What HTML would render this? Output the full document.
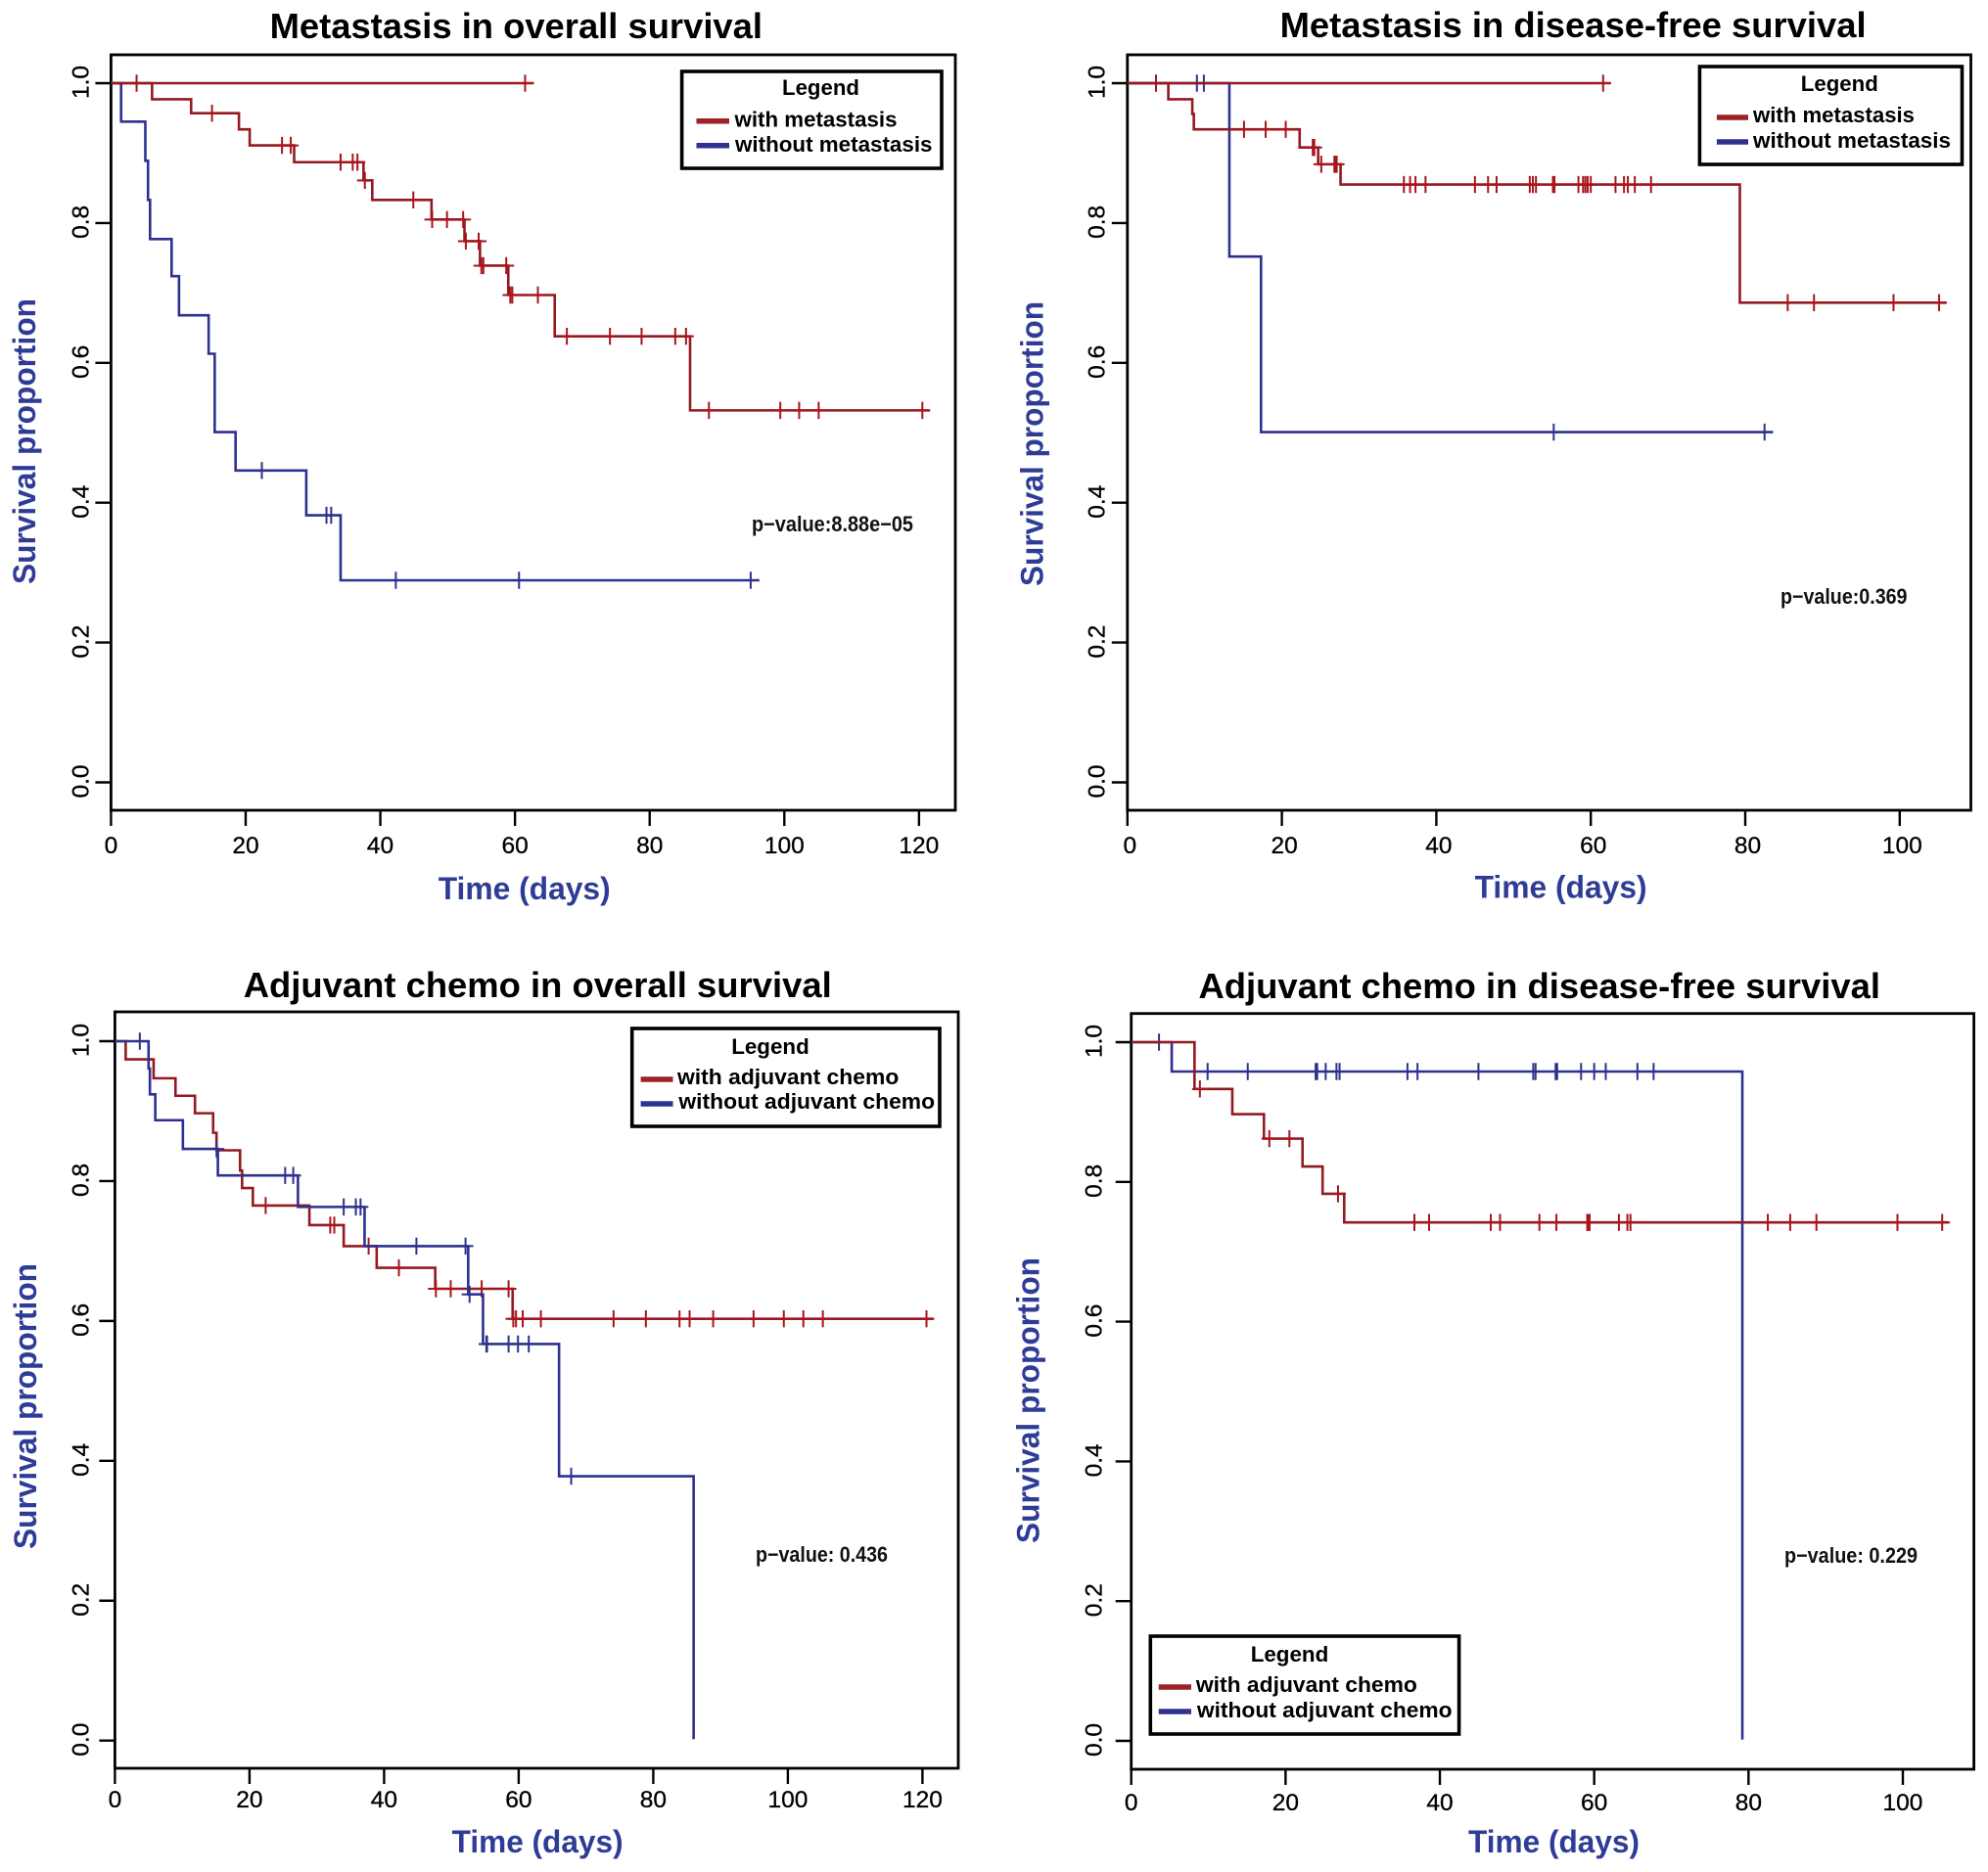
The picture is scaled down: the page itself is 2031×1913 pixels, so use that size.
<!DOCTYPE html>
<html lang="en">
<head>
<meta charset="utf-8">
<title>Kaplan-Meier survival curves</title>
<style>
html,body{margin:0;padding:0;background:#fff;}
#figure{display:block;}
text{font-family:"Liberation Sans",sans-serif;}
.title{font-size:36.5px;font-weight:bold;fill:#000;}
.axis-title{font-size:32px;font-weight:bold;fill:#2f3c96;}
.y-title{font-size:32px;font-weight:bold;fill:#2f3c96;}
.legend-title{font-size:22.5px;font-weight:bold;fill:#000;}
.legend-text{font-size:22.5px;font-weight:bold;fill:#000;}
.pvalue{font-size:22px;font-weight:bold;fill:#111;}
.tick-label{font-size:24.5px;fill:#000;stroke:#000;stroke-width:.3;}
.legend-box{fill:#fff;stroke:#000;stroke-width:3.6;}
</style>
</head>
<body>
<svg id="figure" xmlns="http://www.w3.org/2000/svg" width="2031" height="1913" viewBox="0 0 2031 1913">
  <rect x="0" y="0" width="2031" height="1913" fill="#fff"/>

  <g id="panel-1">
    <text class="title" x="275.6" y="39" textLength="503.4" lengthAdjust="spacingAndGlyphs">Metastasis in overall survival</text>
    <text class="axis-title" x="447.7" y="919" textLength="176" lengthAdjust="spacingAndGlyphs">Time (days)</text>
    <text class="y-title" transform="translate(36 597) rotate(-90)" textLength="292" lengthAdjust="spacingAndGlyphs">Survival proportion</text>
    <text class="pvalue" x="768" y="543" textLength="165" lengthAdjust="spacingAndGlyphs">p−value:8.88e−05</text>
  </g>
  <g id="panel-2">
    <text class="title" x="1307.6" y="38" textLength="599" lengthAdjust="spacingAndGlyphs">Metastasis in disease-free survival</text>
    <text class="axis-title" x="1506.6" y="917.5" textLength="176" lengthAdjust="spacingAndGlyphs">Time (days)</text>
    <text class="y-title" transform="translate(1065.5 599) rotate(-90)" textLength="291" lengthAdjust="spacingAndGlyphs">Survival proportion</text>
    <text class="pvalue" x="1819" y="617" textLength="129.5" lengthAdjust="spacingAndGlyphs">p−value:0.369</text>
  </g>
  <g id="panel-3">
    <text class="title" x="248.7" y="1019" textLength="601" lengthAdjust="spacingAndGlyphs">Adjuvant chemo in overall survival</text>
    <text class="axis-title" x="461.6" y="1893" textLength="175" lengthAdjust="spacingAndGlyphs">Time (days)</text>
    <text class="y-title" transform="translate(37 1583) rotate(-90)" textLength="292" lengthAdjust="spacingAndGlyphs">Survival proportion</text>
    <text class="pvalue" x="772" y="1596" textLength="135" lengthAdjust="spacingAndGlyphs">p−value: 0.436</text>
  </g>
  <g id="panel-4">
    <text class="title" x="1224.5" y="1020" textLength="696.5" lengthAdjust="spacingAndGlyphs">Adjuvant chemo in disease-free survival</text>
    <text class="axis-title" x="1500" y="1893" textLength="175" lengthAdjust="spacingAndGlyphs">Time (days)</text>
    <text class="y-title" transform="translate(1061.5 1577) rotate(-90)" textLength="292" lengthAdjust="spacingAndGlyphs">Survival proportion</text>
    <text class="pvalue" x="1823" y="1597" textLength="136" lengthAdjust="spacingAndGlyphs">p−value: 0.229</text>
  </g>

  <g id="legends-layer"></g>
</svg>

<script>
// Shared axis ticks
const xTicksOverall = [0, 20, 40, 60, 80, 100, 120];
const xTicksDiseaseFree = [0, 20, 40, 60, 80, 100];
const yTicks = [0, 0.2, 0.4, 0.6, 0.8, 1.0];
const yTickLabels = ['0.0', '0.2', '0.4', '0.6', '0.8', '1.0'];

// Panel 1: metastasis in overall survival
const p1FlatEnd = 62.8;
const p1FlatCensors = [3.8, 61.5];
const p1WithTimes = [6.1, 11.9, 19, 20.6, 27.2, 37.5, 38.8, 47.6, 52.5, 54.8, 59, 65.9, 86];
const p1WithLevels = [1, 0.977, 0.957, 0.934, 0.911, 0.887, 0.861, 0.833, 0.805, 0.774, 0.739, 0.697, 0.638, 0.532];
const p1WithCensors = [15, 25.4, 26.7, 34.1, 35.9, 36.6, 37.7, 44.9, 47.7, 49.9, 52.3, 52.7, 54.6, 55, 55.3, 58.7, 59.3, 59.6, 63.4, 67.7, 74.1, 78.8, 83.8, 85.4, 88.8, 99.4, 102.2, 105.1, 120.5];
const p1WithEnd = 121.6;
const p1WithoutTimes = [1.5, 5.1, 5.5, 5.8, 9, 10.1, 14.5, 15.4, 18.5, 29, 34.1];
const p1WithoutLevels = [1, 0.945, 0.889, 0.833, 0.777, 0.724, 0.668, 0.613, 0.501, 0.446, 0.382, 0.289];
const p1WithoutCensors = [22.4, 32, 32.7, 42.3, 60.6, 95];
const p1WithoutEnd = 96.3;

// Panel 2: metastasis in disease-free survival
const p2FlatEnd = 62.6;
const p2FlatCensors = [3.7, 61.6];
const p2WithTimes = [5.3, 8.4, 8.6, 22.3, 24.7, 27.6, 79.3];
const p2WithLevels = [1, 0.977, 0.956, 0.934, 0.908, 0.884, 0.855, 0.686];
const p2WithCensors = [15.1, 17.9, 20.5, 24, 24.2, 25.1, 26.8, 26.9, 27.1, 35.8, 36.6, 37.3, 38.6, 45, 46.7, 47.8, 52.1, 52.5, 52.9, 55.1, 55.3, 58.4, 59, 59.3, 59.6, 60, 63.2, 64.3, 64.8, 65.7, 67.8, 85.5, 88.9, 99.2, 105.1];
const p2WithEnd = 106;
const p2WithoutTimes = [13.2, 17.3];
const p2WithoutLevels = [1, 0.752, 0.501];
const p2WithoutCensors = [9, 9.9, 55.2, 82.5];
const p2WithoutEnd = 83.6;

// Panel 3: adjuvant chemo in overall survival
const p3WithTimes = [1.6, 5.75, 9, 11.9, 14.6, 15.1, 18.6, 18.9, 20.5, 28.9, 34, 38.9, 47.6, 59.1];
const p3WithLevels = [1, 0.974, 0.947, 0.922, 0.897, 0.869, 0.844, 0.815, 0.79, 0.765, 0.737, 0.707, 0.676, 0.646, 0.603];
const p3WithCensors = [22.4, 32, 32.6, 37.7, 42.2, 47.7, 49.9, 54.5, 58.5, 59.2, 59.6, 60.6, 63.3, 74.1, 78.9, 83.9, 85.4, 88.9, 94.9, 99.4, 102.3, 105.2, 120.6];
const p3WithEnd = 121.6;
const p3WithoutTimes = [5, 5.2, 6, 10.1, 15.3, 27.2, 37.1, 52.5, 54.7, 66, 86];
const p3WithoutLevels = [1, 0.961, 0.924, 0.887, 0.846, 0.808, 0.763, 0.707, 0.638, 0.567, 0.378, 0.002];
const p3WithoutCensors = [3.7, 15.1, 25.3, 26.5, 34, 35.8, 36.5, 44.8, 52.1, 52.7, 55.2, 55.3, 58.5, 59.9, 61.5, 67.8];
const p3WithoutEnd = 86;

// Panel 4: adjuvant chemo in disease-free survival
const p4WithTimes = [8.2, 13.1, 17.2, 22.2, 24.8, 27.6];
const p4WithLevels = [1, 0.933, 0.897, 0.862, 0.822, 0.783, 0.742];
const p4WithCensors = [8.9, 17.9, 20.5, 26.8, 36.7, 38.6, 46.6, 47.8, 52.9, 55.1, 59.1, 59.3, 59.4, 63.2, 64.3, 64.7, 82.5, 85.4, 88.8, 99.3, 105.1];
const p4WithEnd = 105.9;
const p4WithoutTimes = [5.25, 79.2];
const p4WithoutLevels = [1, 0.958, 0.002];
const p4WithoutCensors = [3.6, 9.9, 15.1, 23.9, 24.1, 25.2, 26.6, 27, 35.8, 37.1, 45, 52.1, 52.4, 55, 55.2, 58.3, 60, 61.5, 65.6, 67.7];
const p4WithoutEnd = 79.2;

const SVG_NS = 'http://www.w3.org/2000/svg';
const RED = '#931a21';
const RED_MARK = '#a8151c';
const BLUE = '#2e3190';

function makePanel(id, left, right, top, bottom, x0, pxPerDay, y1, y0) {
  return { group: document.getElementById(id), left: left, right: right, top: top, bottom: bottom, x0: x0, pxPerDay: pxPerDay, y1: y1, y0: y0 };
}
function xScale(p, t) { return p.x0 + t * p.pxPerDay; }
function yScale(p, s) { return p.y0 - s * (p.y0 - p.y1); }
function levelAt(times, levels, t) {
  let i = 0;
  while (i < times.length && times[i] <= t) i++;
  return levels[i];
}

function drawFrame(p, xTicks, yLabelBaseline, xLabelBaseline, xLabelOffset) {
  const frame = document.createElementNS(SVG_NS, 'rect');
  
  
  frame.setAttribute('x', p.left);
  frame.setAttribute('y', p.top);
  frame.setAttribute('width', p.right - p.left);
  frame.setAttribute('height', p.bottom - p.top);
  frame.setAttribute('fill', 'none');
  frame.setAttribute('stroke', '#000');
  frame.setAttribute('stroke-width', '2.8');
  p.group.appendChild(frame);

  xTicks.forEach(function (value) {
    const x = xScale(p, value);
    const tick = document.createElementNS(SVG_NS, 'line');
    
    
    tick.setAttribute('x1', x);
    tick.setAttribute('x2', x);
    tick.setAttribute('y1', p.bottom);
    tick.setAttribute('y2', p.bottom + 16);
    tick.setAttribute('stroke', '#000');
    tick.setAttribute('stroke-width', '2.4');
    p.group.appendChild(tick);

    const label = document.createElementNS(SVG_NS, 'text');
    
    
    label.setAttribute('class', 'tick-label');
    label.setAttribute('text-anchor', 'middle');
    label.setAttribute('x', x + xLabelOffset);
    label.setAttribute('y', xLabelBaseline);
    label.textContent = String(value);
    p.group.appendChild(label);
  });

  yTicks.forEach(function (value, i) {
    const y = yScale(p, value);
    const tick = document.createElementNS(SVG_NS, 'line');
    
    
    tick.setAttribute('x1', p.left);
    tick.setAttribute('x2', p.left - 16);
    tick.setAttribute('y1', y);
    tick.setAttribute('y2', y);
    tick.setAttribute('stroke', '#000');
    tick.setAttribute('stroke-width', '2.4');
    p.group.appendChild(tick);

    const label = document.createElementNS(SVG_NS, 'text');
    
    
    label.setAttribute('class', 'tick-label');
    label.setAttribute('text-anchor', 'middle');
    label.setAttribute('transform', 'translate(' + yLabelBaseline + ' ' + (y - 1) + ') rotate(-90)');
    label.textContent = yTickLabels[i];
    p.group.appendChild(label);
  });
}

function drawSeries(p, times, levels, censors, end, color, markColor, seriesName) {
  let d = 'M' + xScale(p, 0) + ' ' + yScale(p, levels[0]);
  times.forEach(function (t, i) {
    const x = xScale(p, t);
    d += ' L' + x + ' ' + yScale(p, levels[i]);
    d += ' L' + x + ' ' + yScale(p, levels[i + 1]);
  });
  d += ' L' + xScale(p, end) + ' ' + yScale(p, levels[levels.length - 1]);

  const path = document.createElementNS(SVG_NS, 'path');
  
  
  path.setAttribute('d', d);
  path.setAttribute('fill', 'none');
  path.setAttribute('stroke', color);
  path.setAttribute('stroke-width', '2.6');
  p.group.appendChild(path);

  censors.forEach(function (t) {
    const cx = xScale(p, t);
    const cy = yScale(p, levelAt(times, levels, t));
    const mark = document.createElementNS(SVG_NS, 'path');
    
    
    mark.setAttribute('d', 'M' + (cx - 8) + ' ' + cy + ' H' + (cx + 8) + ' M' + cx + ' ' + (cy - 8.7) + ' V' + (cy + 8.7));
    mark.setAttribute('fill', 'none');
    mark.setAttribute('stroke', markColor);
    mark.setAttribute('stroke-width', '2');
    p.group.appendChild(mark);
  });
}

function drawLegend(box, titleX, titleW, titleY, swatchX0, swatchX1, rowY, rowTextX, rowTextW, rowBaseline, labels) {
  const layer = document.getElementById('legends-layer');
  const group = document.createElementNS(SVG_NS, 'g');
  
  
  layer.appendChild(group);

  const frame = document.createElementNS(SVG_NS, 'rect');
  
  
  frame.setAttribute('class', 'legend-box');
  frame.setAttribute('x', box[0]);
  frame.setAttribute('y', box[1]);
  frame.setAttribute('width', box[2] - box[0]);
  frame.setAttribute('height', box[3] - box[1]);
  group.appendChild(frame);

  const title = document.createElementNS(SVG_NS, 'text');
  
  
  title.setAttribute('class', 'legend-title');
  title.setAttribute('x', titleX);
  title.setAttribute('y', titleY);
  title.setAttribute('textLength', titleW);
  title.setAttribute('lengthAdjust', 'spacingAndGlyphs');
  title.textContent = 'Legend';
  group.appendChild(title);

  labels.forEach(function (text, i) {
    const swatch = document.createElementNS(SVG_NS, 'line');
    
    
    swatch.setAttribute('x1', swatchX0);
    swatch.setAttribute('x2', swatchX1);
    swatch.setAttribute('y1', rowY[i]);
    swatch.setAttribute('y2', rowY[i]);
    swatch.setAttribute('stroke', i === 0 ? '#9b2226' : BLUE);
    swatch.setAttribute('stroke-width', '5.5');
    group.appendChild(swatch);

    const entry = document.createElementNS(SVG_NS, 'text');
    
    
    entry.setAttribute('class', 'legend-text');
    entry.setAttribute('x', rowTextX[i]);
    entry.setAttribute('y', rowBaseline[i]);
    entry.setAttribute('textLength', rowTextW[i]);
    entry.setAttribute('lengthAdjust', 'spacingAndGlyphs');
    entry.textContent = text;
    group.appendChild(entry);
  });
}

const panel1 = makePanel('panel-1', 113.4, 976, 56, 828, 113.4, 6.879, 85, 799.5);
const panel2 = makePanel('panel-2', 1151.8, 2013.5, 56, 828, 1151.8, 7.89, 85, 799.5);
const panel3 = makePanel('panel-3', 117.4, 979, 1034, 1807, 117.4, 6.875, 1064, 1778.7);
const panel4 = makePanel('panel-4', 1155.7, 2016.6, 1035.7, 1808, 1155.7, 7.883, 1065, 1779);

drawFrame(panel1, xTicksOverall, 90.7, 872, 0);
drawFrame(panel2, xTicksDiseaseFree, 1128.5, 872, 2.5);
drawFrame(panel3, xTicksOverall, 90.5, 1847, 0);
drawFrame(panel4, xTicksDiseaseFree, 1125.5, 1850, 0);

drawSeries(panel1, p1WithoutTimes, p1WithoutLevels, p1WithoutCensors, p1WithoutEnd, BLUE, BLUE, 'without-metastasis');
drawSeries(panel1, [], [1], p1FlatCensors, p1FlatEnd, RED, RED_MARK, 'with-metastasis-flat');
drawSeries(panel1, p1WithTimes, p1WithLevels, p1WithCensors, p1WithEnd, RED, RED_MARK, 'with-metastasis');

drawSeries(panel2, p2WithoutTimes, p2WithoutLevels, p2WithoutCensors, p2WithoutEnd, BLUE, BLUE, 'without-metastasis');
drawSeries(panel2, [], [1], p2FlatCensors, p2FlatEnd, RED, RED_MARK, 'with-metastasis-flat');
drawSeries(panel2, p2WithTimes, p2WithLevels, p2WithCensors, p2WithEnd, RED, RED_MARK, 'with-metastasis');

drawSeries(panel3, p3WithTimes, p3WithLevels, p3WithCensors, p3WithEnd, RED, RED_MARK, 'with-adjuvant-chemo');
drawSeries(panel3, p3WithoutTimes, p3WithoutLevels, p3WithoutCensors, p3WithoutEnd, BLUE, BLUE, 'without-adjuvant-chemo');

drawSeries(panel4, p4WithoutTimes, p4WithoutLevels, p4WithoutCensors, p4WithoutEnd, BLUE, BLUE, 'without-adjuvant-chemo');
drawSeries(panel4, p4WithTimes, p4WithLevels, p4WithCensors, p4WithEnd, RED, RED_MARK, 'with-adjuvant-chemo');

drawLegend([696.6, 73, 962, 172], 799, 79, 97, 711.5, 745, [123.7, 148.7], [750.5, 751], [166, 201.5], [129.3, 155], ['with metastasis', 'without metastasis']);
drawLegend([1736.4, 68, 2004.5, 168], 1839.8, 79, 93, 1753.9, 1786, [120, 145], [1791, 1791], [165, 202], [125, 151], ['with metastasis', 'without metastasis']);
drawLegend([645.7, 1051, 960, 1151], 747.2, 79.6, 1077, 654.6, 687.5, [1103, 1128], [692, 693.4], [226.3, 261.7], [1108, 1133], ['with adjuvant chemo', 'without adjuvant chemo']);
drawLegend([1175.3, 1672, 1490.6, 1772], 1277.7, 79.6, 1698, 1183.7, 1217, [1724, 1749], [1221.9, 1222.9], [226, 260.7], [1729, 1755], ['with adjuvant chemo', 'without adjuvant chemo']);
</script>
</body>
</html>
